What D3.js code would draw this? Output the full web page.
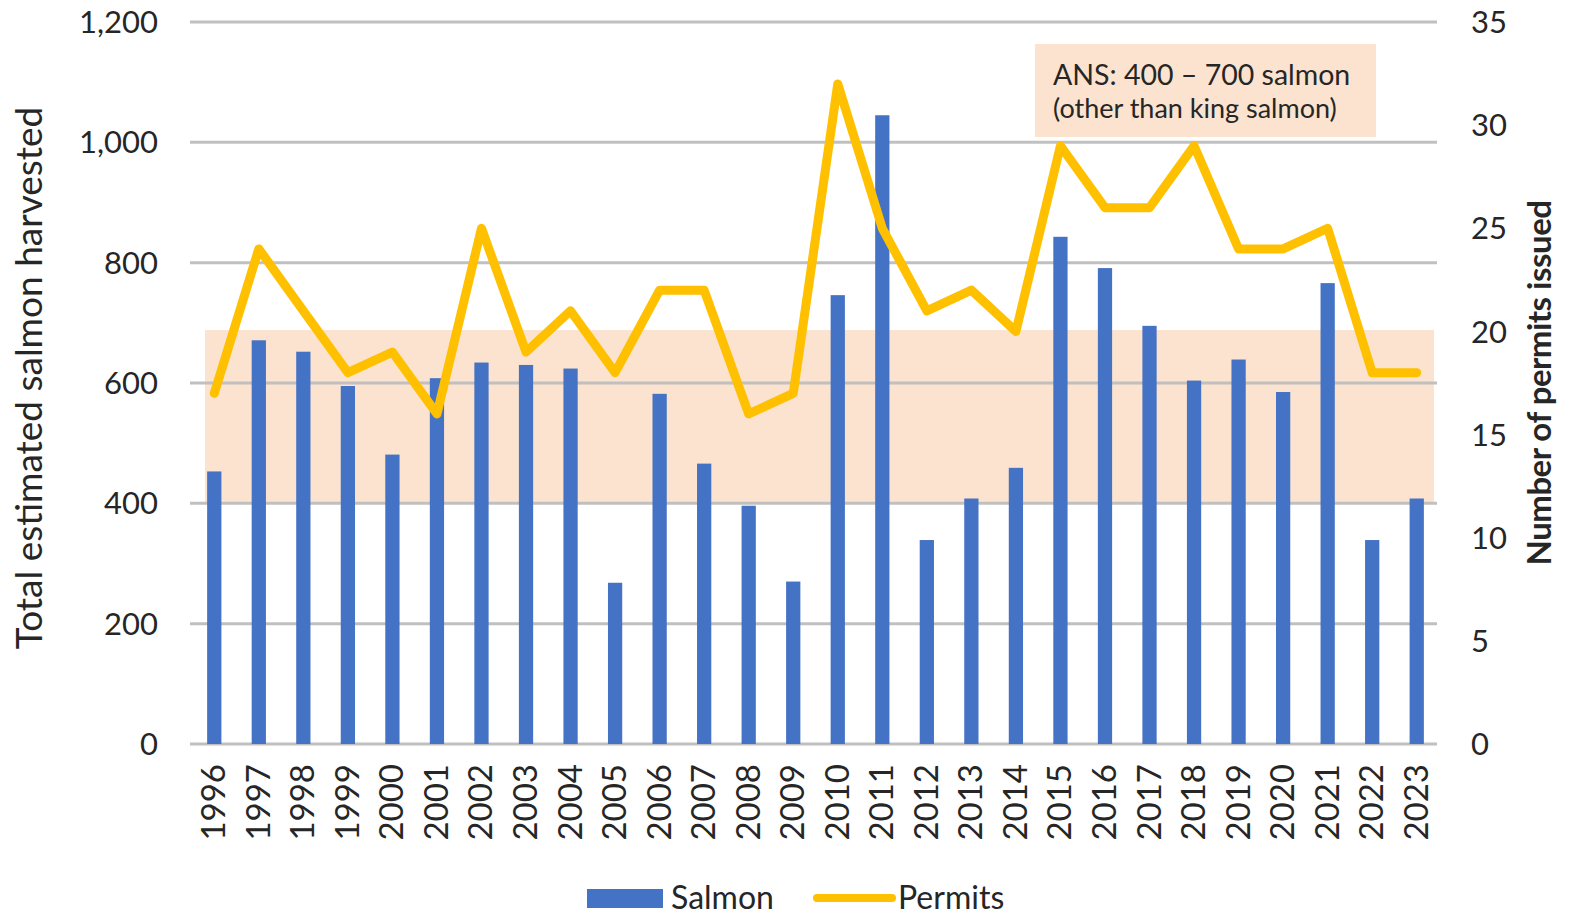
<!DOCTYPE html>
<html>
<head>
<meta charset="utf-8">
<script src="https://cdn.jsdelivr.net/npm/d3@7"></script>
<style>
  body { margin: 0; background: #fff; }
  text { font-family: Lato, "Open Sans", sans-serif; fill: #262626; }
</style>
</head>
<body>
<div class="chart"></div>
<script>
// data
var years = ["1996","1997","1998","1999","2000","2001","2002","2003","2004","2005",
             "2006","2007","2008","2009","2010","2011","2012","2013","2014","2015",
             "2016","2017","2018","2019","2020","2021","2022","2023"];
var salmon = [453, 671, 652, 595, 481, 608, 634, 630, 624, 268,
              582, 466, 396, 270, 746, 1045, 339, 408, 459, 843,
              791, 695, 604, 639, 585, 766, 339, 408];
var permits = [17, 24, 21, 18, 19, 16, 25, 19, 21, 18,
               22, 22, 16, 17, 32, 25, 21, 22, 20, 29,
               26, 26, 29, 24, 24, 25, 18, 18];
var leftTicks = [0, 200, 400, 600, 800, 1000, 1200];
var rightTicks = [0, 5, 10, 15, 20, 25, 30, 35];
var ansRange = [400, 688];

const width = 1572, height = 915;

var svg = d3.select(".chart").append("svg")
    .attr("width", width)
    .attr("height", height);

var x = d3.scaleBand()
    .domain(years)
    .range([192, 1439])
    .paddingInner(0.68)
    .paddingOuter(0.34);

var yL = d3.scaleLinear().domain([0, 1200]).range([744, 22]);
var yR = d3.scaleLinear().domain([0, 35]).range([744, 22]);

// shaded ANS range
svg.append("rect")
    .attr("x", 205)
    .attr("width", 1434 - 205)
    .attr("y", yL(ansRange[1]))
    .attr("height", yL(ansRange[0]) - yL(ansRange[1]))
    .attr("fill", "#fbe3cf");

// gridlines
svg.append("g")
  .selectAll("line")
  .data(leftTicks)
  .enter()
  .append("line")
    .attr("x1", 190).attr("x2", 1437)
    .attr("y1", d => yL(d)).attr("y2", d => yL(d))
    .attr("stroke", "#c0c0c0")
    .attr("stroke-width", 3);

// bars
svg.append("g")
  .selectAll("rect")
  .data(salmon)
  .enter()
  .append("rect")
    .attr("x", (d, i) => x(years[i]))
    .attr("width", x.bandwidth())
    .attr("y", d => yL(d))
    .attr("height", d => yL(0) - yL(d))
    .attr("fill", "#4472c4");

// permits line
var line = d3.line()
    .x((d, i) => x(years[i]) + x.bandwidth() / 2)
    .y(d => yR(d));

svg.append("path")
    .datum(permits)
    .attr("d", line)
    .attr("fill", "none")
    .attr("stroke", "#ffc000")
    .attr("stroke-width", 9)
    .attr("stroke-linejoin", "round")
    .attr("stroke-linecap", "round");

// left axis labels
svg.append("g")
  .selectAll("text")
  .data(leftTicks)
  .enter()
  .append("text")
    .attr("x", 158)
    .attr("y", d => yL(d))
    .attr("dy", "0.36em")
    .attr("text-anchor", "end")
    .style("font-size", "31px")
    .text(d => d3.format(",")(d));

// right axis labels
svg.append("g")
  .selectAll("text")
  .data(rightTicks)
  .enter()
  .append("text")
    .attr("x", 1471)
    .attr("y", d => yR(d))
    .attr("dy", "0.36em")
    .style("font-size", "31px")
    .text(d => d);

// year labels
svg.append("g")
  .selectAll("text")
  .data(years)
  .enter()
  .append("text")
    .attr("transform", d => "translate(" + (x(d) + x.bandwidth() / 2 + 11) + ",764) rotate(-90)")
    .attr("text-anchor", "end")
    .style("font-size", "33px")
    .text(d => d);

// axis titles
svg.append("text")
    .attr("transform", "translate(42,378) rotate(-90)")
    .attr("text-anchor", "middle")
    .style("font-size", "37px")
    .text("Total estimated salmon harvested");

svg.append("text")
    .attr("transform", "translate(1551,383) rotate(-90)")
    .attr("text-anchor", "middle")
    .style("font-size", "33px")
    .style("font-weight", "bold")
    .style("letter-spacing", "-0.5px")
    .text("Number of permits issued");

// annotation box
svg.append("rect")
    .attr("x", 1035).attr("y", 44)
    .attr("width", 341).attr("height", 93)
    .attr("fill", "#fbe3cf");

svg.append("text")
    .attr("x", 1053).attr("y", 85)
    .style("font-size", "28.5px")
    .text("ANS: 400 \u2013 700 salmon");

svg.append("text")
    .attr("x", 1053).attr("y", 118)
    .style("font-size", "27px")
    .text("(other than king salmon)");

// legend
var legend = svg.append("g");
legend.append("rect")
    .attr("x", 587).attr("y", 889)
    .attr("width", 76).attr("height", 19)
    .attr("fill", "#4472c4");
legend.append("text")
    .attr("x", 671).attr("y", 909)
    .style("font-size", "32px")
    .text("Salmon");
legend.append("line")
    .attr("x1", 817).attr("x2", 892)
    .attr("y1", 898).attr("y2", 898)
    .attr("stroke", "#ffc000")
    .attr("stroke-width", 8)
    .attr("stroke-linecap", "round");
legend.append("text")
    .attr("x", 898).attr("y", 909)
    .style("font-size", "32px")
    .text("Permits");
</script>
</body>
</html>
